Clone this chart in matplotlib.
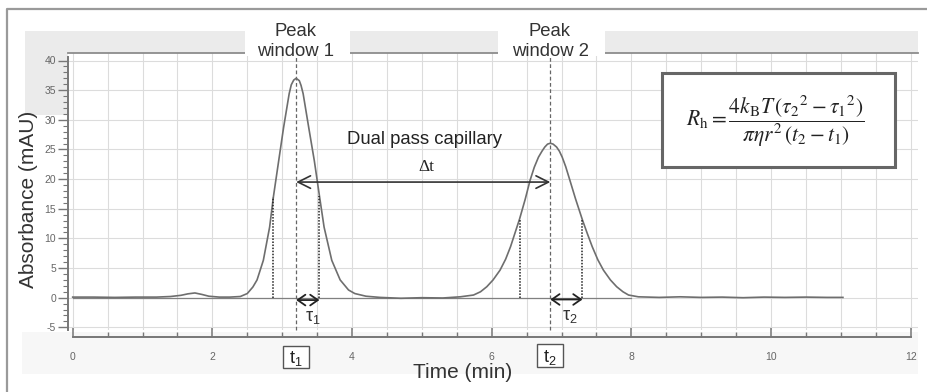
import matplotlib
matplotlib.use("Agg")
import numpy as np
import matplotlib.pyplot as plt
from matplotlib.patches import Rectangle
from matplotlib.lines import Line2D

# absorbance trace (min, mAU)
time_min = [0.00, 0.30, 0.60, 0.90, 1.20, 1.40, 1.55, 1.65, 1.75, 1.85, 1.95,
            2.10, 2.25, 2.40, 2.50, 2.58, 2.64, 2.73, 2.82, 2.874, 2.95, 3.02,
            3.10, 3.13, 3.165, 3.20, 3.245, 3.27, 3.30, 3.38, 3.46, 3.533, 3.60,
            3.71, 3.83, 3.95, 4.04, 4.20, 4.40, 4.70, 5.00, 5.30, 5.55, 5.74,
            5.84, 5.93, 6.02, 6.12, 6.20, 6.27, 6.40, 6.48, 6.55, 6.61, 6.67,
            6.72, 6.76, 6.80, 6.84, 6.88, 6.93, 6.97, 7.01, 7.06, 7.12, 7.20,
            7.30, 7.37, 7.44, 7.52, 7.60, 7.70, 7.79, 7.88, 7.96, 8.10, 8.40,
            8.70, 9.00, 9.30, 9.60, 9.90, 10.20, 10.50, 10.80, 11.03]
absorb = [0.10, 0.10, 0.05, 0.10, 0.10, 0.20, 0.40, 0.65, 0.80, 0.55, 0.25,
          0.10, 0.10, 0.20, 0.70, 1.80, 3.00, 6.30, 11.90, 17.00, 23.10, 28.70,
          34.40, 35.90, 36.70, 37.00, 36.60, 35.80, 34.40, 28.70, 23.10, 17.20, 11.90,
          6.30, 3.00, 1.30, 0.70, 0.25, 0.05, -0.10, 0.00, -0.05, 0.15, 0.45,
          1.00, 1.85, 3.00, 4.65, 6.50, 8.60, 13.30, 16.60, 19.80, 22.00, 23.70,
          24.70, 25.40, 25.90, 26.05, 25.90, 25.40, 24.70, 23.70, 22.10, 19.80, 16.70,
          13.10, 10.80, 8.60, 6.40, 4.65, 3.00, 1.85, 1.00, 0.45, 0.15, 0.05,
          0.15, 0.05, 0.10, 0.00, 0.10, 0.05, 0.10, 0.05, 0.05]

# peak maxima and half-height edges
t_peak = [3.20, 6.84]
edge_t = [2.874, 3.533, 6.40, 7.30]
edge_h = [17.00, 17.20, 13.30, 13.10]

x_ticks = [0, 2, 4, 6, 8, 10, 12]
y_ticks = [-5, 0, 5, 10, 15, 20, 25, 30, 35, 40]

W, H = 927, 392
plt.rcParams['font.family'] = ['Liberation Sans', 'DejaVu Sans']
plt.rcParams['mathtext.fontset'] = 'stix'
plt.rcParams['axes.unicode_minus'] = False


def fx(x):
    return x / W


def fy(y):
    return 1 - y / H


fig = plt.figure(figsize=(W / 100, H / 100), dpi=100)
fig.patch.set_facecolor('white')

# grey header band and frame around the panel
fig.add_artist(Rectangle((fx(25), fy(53)), fx(918) - fx(25), fy(31) - fy(53),
                         transform=fig.transFigure, fc='#ebebeb', ec='none', zorder=-2))
fig.add_artist(Rectangle((fx(25), fy(115)), fx(68) - fx(25), fy(31) - fy(115),
                         transform=fig.transFigure, fc='#ebebeb', ec='none', zorder=-2))
fig.add_artist(Rectangle((fx(22), fy(374)), fx(918) - fx(22), fy(332) - fy(374),
                         transform=fig.transFigure, fc='#f7f7f7', ec='none', zorder=-2))
fig.add_artist(Line2D([fx(7.5), fx(7.5), fx(927)], [fy(392), fy(9), fy(9)],
                      transform=fig.transFigure, color='#9a9a9a', lw=1.6))

ax = fig.add_axes([fx(68), fy(330), fx(918) - fx(68), fy(53) - fy(330)])
ax.set_facecolor('white')
x_px = 69.83
ax.set_xlim((68 - 72.7) / x_px, (918 - 72.7) / x_px)
ax.set_ylim(-(330 - 297.7) / 5.93, (297.7 - 53) / 5.93)

ax.spines['right'].set_visible(False)
ax.spines['top'].set_color('#8c8c8c')
ax.spines['top'].set_linewidth(1.3)
ax.spines['left'].set_color('#777777')
ax.spines['left'].set_linewidth(1.4)
ax.spines['left'].set_bounds(-5.4, 40.6)
ax.spines['bottom'].set_color('#777777')
ax.spines['bottom'].set_linewidth(1.4)
ax.spines['bottom'].set_position(('outward', 5))
ax.spines['bottom'].set_bounds(0, 12)

ax.set_xticks(x_ticks)
ax.set_xticks(np.arange(0, 12.01, 0.5), minor=True)
ax.set_yticks(y_ticks)
ax.set_yticks(np.arange(-5, 40.01, 1), minor=True)
ax.tick_params(axis='x', which='major', direction='in', length=6.5, width=1.1,
               color='#777777', labelsize=7.5, labelcolor='#666666', pad=10.5)
ax.tick_params(axis='x', which='minor', direction='in', length=3.6, width=1.0,
               color='#777777')
ax.tick_params(axis='y', which='major', direction='out', length=7, width=1.0,
               color='#777777', labelsize=7.5, labelcolor='#666666', pad=1.5)
ax.tick_params(axis='y', which='minor', direction='out', length=3.6, width=0.8,
               color='#777777')

# light grid: every half minute, every 5 mAU
for t in np.arange(0, 12.01, 0.5):
    ax.axvline(t, color='#dcdcdc', lw=0.8, zorder=0)
for v in y_ticks:
    ax.axhline(v, color='#dcdcdc', lw=0.8, zorder=0)

ax.plot([0, 8.0], [0, 0], color='#808080', lw=0.9, zorder=2)
ax.plot(time_min, absorb, color='#6e6e6e', lw=1.2, zorder=3)

for t in t_peak:
    ax.plot([t, t], [-5.45, 41.3], color='#666666', lw=0.9,
            ls=(0, (3, 2)), zorder=2, clip_on=False)
for t, h in zip(edge_t, edge_h):
    ax.plot([t, t], [0, h], color='#222222', lw=1.1, ls=(0, (1, 1)), zorder=4)

ax.annotate('', xy=(t_peak[1], 19.5), xytext=(t_peak[0], 19.5),
            arrowprops=dict(arrowstyle='<->,head_length=0.6,head_width=0.3',
                            color='#333333', lw=1.2, shrinkA=0, shrinkB=0,
                            mutation_scale=15), zorder=5)
ax.annotate('', xy=(edge_t[1], -0.4), xytext=(t_peak[0], -0.4),
            arrowprops=dict(arrowstyle='<->,head_length=0.5,head_width=0.35',
                            color='#222222', lw=1.3, shrinkA=0, shrinkB=0,
                            mutation_scale=11), zorder=5)
ax.annotate('', xy=(edge_t[3], -0.3), xytext=(t_peak[1], -0.3),
            arrowprops=dict(arrowstyle='<->,head_length=0.5,head_width=0.35',
                            color='#222222', lw=1.3, shrinkA=0, shrinkB=0,
                            mutation_scale=11), zorder=5)

ax.text(5.04, 26.0, 'Dual pass capillary', fontsize=13.3, color='#222222',
        ha='center', va='baseline', zorder=6)
ax.text(5.06, 21.4, 'Δt', fontsize=12.5, color='#222222', ha='center',
        va='baseline', family=['Liberation Serif', 'DejaVu Serif'], zorder=6)

# peak window captions over the header band
for xc, x0, x1, n in [(296, 245, 350, 1), (550, 498, 605, 2)]:
    fig.add_artist(Rectangle((fx(x0), fy(56)), fx(x1) - fx(x0), fy(20) - fy(56),
                             transform=fig.transFigure, fc='white', ec='none', zorder=3))
    fig.text(fx(xc), fy(36), 'Peak', fontsize=13.3, color='#333333',
             ha='center', va='baseline', zorder=4)
    fig.text(fx(xc), fy(56.5), 'window %d' % n, fontsize=13.3, color='#333333',
             ha='center', va='baseline', zorder=4)

# tau labels under the baseline arrows
fig.text(fx(312.5), fy(321.5), r'$\mathregular{\tau_1}$', fontsize=13, color='#333333',
         ha='center', va='baseline')
fig.text(fx(569.5), fy(320), r'$\mathregular{\tau_2}$', fontsize=13, color='#333333',
         ha='center', va='baseline')

# boxed t1 / t2 markers below the time axis
for xc, x0, x1, y0, y1, lab in [(295.5, 282.7, 309.3, 345.7, 368, r'$\mathregular{t_1}$'),
                                (550, 536.7, 563.3, 344, 366.7, r'$\mathregular{t_2}$')]:
    fig.add_artist(Rectangle((fx(x0), fy(y1)), fx(x1) - fx(x0), fy(y0) - fy(y1),
                             transform=fig.transFigure, fc='white', ec='#555555',
                             lw=1.0, zorder=3))
    fig.text(fx(xc), fy(y1 - 5), lab, fontsize=13, color='#222222',
             ha='center', va='baseline', zorder=4)

fig.text(fx(462.5), fy(378), 'Time (min)', fontsize=15, color='#333333',
         ha='center', va='baseline')
fig.text(fx(29), fy(199.5), 'Absorbance (mAU)', fontsize=15, color='#333333',
         ha='center', va='center', rotation=90)

# Stokes-Einstein formula box
fig.add_artist(Rectangle((fx(661.7), fy(167.3)), fx(895) - fx(661.7), fy(73.3) - fy(167.3),
                         transform=fig.transFigure, fc='white', ec='#666666',
                         lw=2.2, zorder=3))
fig.text(fx(775), fy(121), r'$R_{\mathrm{h}}=\dfrac{4k_{\mathrm{B}}T\,\left(\tau_2{}^2-\tau_1{}^2\right)}{\pi\eta r^2\,\left(t_2-t_1\right)}$',
         fontsize=15.5, color='#222222', ha='center', va='center', zorder=4)

fig.savefig('out.png', dpi=100)
